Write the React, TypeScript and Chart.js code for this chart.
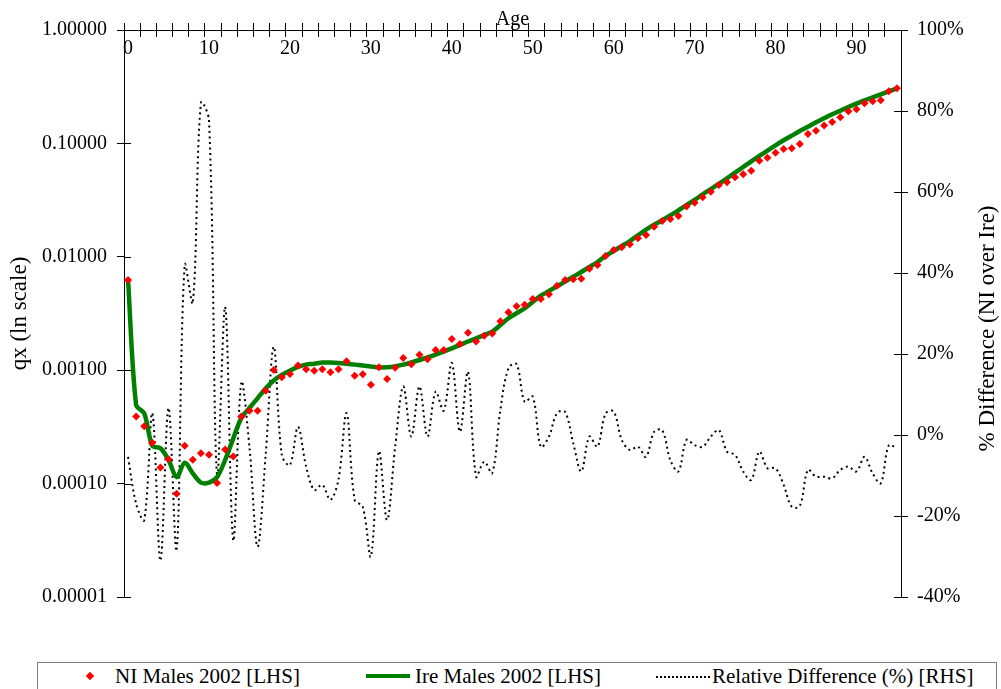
import React, { useEffect, useRef } from "react";
import { Chart, registerables } from "chart.js";

Chart.register(...registerables);

const ages = [
  0, 1, 2, 3, 4, 5, 6, 7, 8, 9, 10, 11, 12, 13, 14, 15, 16, 17, 18, 19,
  20, 21, 22, 23, 24, 25, 26, 27, 28, 29, 30, 31, 32, 33, 34, 35, 36, 37, 38, 39,
  40, 41, 42, 43, 44, 45, 46, 47, 48, 49, 50, 51, 52, 53, 54, 55, 56, 57, 58, 59,
  60, 61, 62, 63, 64, 65, 66, 67, 68, 69, 70, 71, 72, 73, 74, 75, 76, 77, 78, 79,
  80, 81, 82, 83, 84, 85, 86, 87, 88, 89, 90, 91, 92, 93, 94, 95,
];

const niMales2002 = [
  0.00624, 0.00039, 0.00032, 0.000229, 0.000139, 0.000164, 0.0000812, 0.000216, 0.000162, 0.000185,
  0.00018, 0.000101, 0.0002, 0.000173, 0.00039, 0.00044, 0.00044, 0.00066, 0.001005, 0.000865,
  0.000925, 0.0011, 0.00102, 0.00099, 0.00102, 0.00096, 0.00102, 0.0012, 0.000895, 0.00092,
  0.000745, 0.00106, 0.000836, 0.00105, 0.00128, 0.00113, 0.00137, 0.00125, 0.00151, 0.00151,
  0.00188, 0.0017, 0.00214, 0.00179, 0.00201, 0.00211, 0.0027, 0.00324, 0.00366, 0.00378,
  0.00425, 0.00425, 0.00467, 0.00556, 0.00624, 0.00633, 0.00641, 0.00785, 0.00847, 0.01017,
  0.01148, 0.01213, 0.0129, 0.01455, 0.01556, 0.0184, 0.0207, 0.0215, 0.0229, 0.0277,
  0.03, 0.0335, 0.0375, 0.043, 0.0454, 0.0502, 0.0534, 0.0574, 0.0704, 0.0748,
  0.0828, 0.0893, 0.0905, 0.0988, 0.121, 0.1295, 0.144, 0.1545, 0.17, 0.192,
  0.2, 0.226, 0.235, 0.24, 0.288, 0.306,
];

const ireMales2002 = [
  0.00624, 0.000493, 0.000417, 0.000215, 0.000205, 0.000162, 0.000114, 0.000153, 0.000123, 0.000102,
  0.000102, 0.000114, 0.000162, 0.00025, 0.00038, 0.000464, 0.000565, 0.00069, 0.00081, 0.00091,
  0.00099, 0.00107, 0.00112, 0.00114, 0.00117, 0.00117, 0.00116, 0.00114, 0.00112, 0.0011,
  0.00108, 0.00106, 0.00106, 0.00108, 0.00112, 0.00117, 0.00123, 0.0013, 0.00137, 0.00146,
  0.00156, 0.00167, 0.00179, 0.00191, 0.00204, 0.00219, 0.0025, 0.00287, 0.00318, 0.00351,
  0.004, 0.00454, 0.00499, 0.0055, 0.00604, 0.00668, 0.00735, 0.00813, 0.009, 0.0102,
  0.01125, 0.01245, 0.01378, 0.01548, 0.01735, 0.0192, 0.021, 0.0232, 0.0257, 0.0286,
  0.0317, 0.0356, 0.0396, 0.0441, 0.0492, 0.0552, 0.0619, 0.0695, 0.0775, 0.0863,
  0.0962, 0.1065, 0.117, 0.1286, 0.14, 0.1535, 0.1665, 0.1806, 0.194, 0.2094,
  0.224, 0.24, 0.255, 0.271, 0.288, 0.306,
];

const relDiffPct = [
  -5.4, -17, -21, 5.4, -31, 6.7, -28.4, 42, 32.6, 82,
  77.8, -10, 31.6, -26, 13, -3, -27.6, -5, 21.8, -5,
  -7.4, 2, -7.8, -13.6, -12.3, -16, -11, 5.4, -16, -17.7,
  -30, -4, -21, -3, 12, -0.4, 12, -0.4, 10.7, 6,
  17.8, 0.8, 15.6, -10.3, -6.6, -9.4, 6.2, 16.5, 17.5, 8.2,
  9.5, -2.9, -0.4, 5.4, 5.7, -2, -9, -0.4, -2.9, 5.3,
  5.8, -1.2, -3.7, -2.9, -5.4, 0.8, 1.2, -6.2, -9, -1.2,
  -2.5, -2.9, -0.4, 1.2, -4.1, -4.9, -9, -11.1, -4.1, -8.2,
  -8.2, -12.3, -17.7, -17.5, -8.6, -10.3, -10.3, -10.7, -8.6, -7.8,
  -9, -5.4, -9.5, -11.9, -2.5, -3.3,
];

const leftTickValues = [0.00001, 0.0001, 0.001, 0.01, 0.1, 1];
const ageLabelEvery = 10;
const tickMarkEvery = 2;
const rightTitle = "% Difference (NI over Ire)";

const FONT = "'Liberation Serif', 'Times New Roman', serif";
const FS = 20;
const TITLE_FS = 23;

const innerTicks = {
  id: "innerTicks",
  afterDraw(chart: any) {
    const { ctx, chartArea, scales } = chart;
    const len = 7;
    ctx.save();
    ctx.strokeStyle = "#000";
    ctx.lineWidth = 1;
    ctx.beginPath();
    scales.y.ticks.forEach((_t: any, i: number) => {
      const p = Math.round(scales.y.getPixelForTick(i)) + 0.5;
      ctx.moveTo(chartArea.left, p);
      ctx.lineTo(chartArea.left + len, p);
    });
    scales.y2.ticks.forEach((_t: any, i: number) => {
      const p = Math.round(scales.y2.getPixelForTick(i)) + 0.5;
      ctx.moveTo(chartArea.right - len, p);
      ctx.lineTo(chartArea.right, p);
    });
    ctx.stroke();
    // right-hand axis title, reading bottom-to-top
    const y2 = scales.y2;
    ctx.translate(y2.right - 13, (chartArea.top + chartArea.bottom) / 2 + 15);
    ctx.rotate(-Math.PI / 2);
    ctx.font = `${TITLE_FS}px ${FONT}`;
    ctx.fillStyle = "#000";
    ctx.textAlign = "center";
    ctx.textBaseline = "middle";
    ctx.fillText(rightTitle, 0, 0);
    ctx.restore();
  },
};

export default function App() {
  const ref = useRef<HTMLCanvasElement>(null);

  useEffect(() => {
    const tickColor = (c: any) =>
      typeof c.index === "number" && c.index % tickMarkEvery === 0 ? "#000" : "rgba(0,0,0,0)";
    const font = { family: FONT, size: FS };
    const chart = new Chart(ref.current as HTMLCanvasElement, {
      type: "line",
      data: {
        labels: ages.map(String),
        datasets: [
          {
            label: "NI Males 2002 [LHS]",
            data: niMales2002,
            yAxisID: "y",
            xAxisID: "x",
            showLine: false,
            pointStyle: "rectRot",
            pointRadius: 4,
            pointBorderWidth: 0,
            pointBackgroundColor: "#ff0000",
            pointBorderColor: "#ff0000",
            borderColor: "#ff0000",
            backgroundColor: "#ff0000",
          },
          {
            label: "Ire Males 2002 [LHS]",
            data: ireMales2002,
            yAxisID: "y",
            xAxisID: "x",
            borderColor: "#008000",
            backgroundColor: "#008000",
            borderWidth: 4.5,
            pointRadius: 0,
            tension: 0.3,
          },
          {
            label: "Relative Difference (%) [RHS]",
            data: relDiffPct,
            yAxisID: "y2",
            xAxisID: "x",
            borderColor: "#000",
            backgroundColor: "#000",
            borderWidth: 2,
            borderDash: [2, 3.5],
            pointRadius: 0,
            tension: 0.35,
          },
        ],
      },
      options: {
        animation: false,
        responsive: true,
        maintainAspectRatio: false,
        layout: { padding: { top: 0, left: 0, right: 0, bottom: 43 } },
        plugins: { legend: { display: false }, tooltip: { enabled: false } },
        scales: {
          x: {
            type: "category",
            axis: "x",
            position: "top",
            offset: true,
            title: { display: true, text: "Age", color: "#000", font, padding: { top: 8, bottom: 0 } },
            ticks: { display: false, autoSkip: false },
            grid: { drawOnChartArea: false, drawTicks: true, tickLength: 7, offset: true, tickColor },
            border: { display: true, color: "#000", width: 1 },
            afterFit: (s: any) => { s.height = 30; },
          },
          xLab: {
            type: "category",
            axis: "x",
            position: { y: 1 },
            offset: true,
            ticks: {
              display: true,
              autoSkip: false,
              maxRotation: 0,
              color: "#000",
              font,
              padding: 0,
              callback: (_v: any, i: number) => (ages[i] % ageLabelEvery === 0 ? String(ages[i]) : ""),
            },
            grid: { drawOnChartArea: false, drawTicks: true, tickLength: 7, offset: true, tickColor },
            border: { display: false },
          },
          y: {
            type: "logarithmic",
            position: "left",
            min: 0.00001,
            max: 1,
            afterBuildTicks: (s: any) => { s.ticks = leftTickValues.map((v) => ({ value: v })); },
            ticks: {
              color: "#000",
              font,
              padding: 10,
              callback: (v: any) => Number(v).toFixed(5),
            },
            title: {
              display: true,
              text: "qx (ln scale)",
              color: "#000",
              font: { family: FONT, size: TITLE_FS },
              padding: { top: 6, bottom: 0 },
            },
            grid: { drawOnChartArea: false, drawTicks: true, tickLength: 7, tickColor: "#000" },
            border: { display: true, color: "#000", width: 1 },
            afterFit: (s: any) => { s.width = 124; },
          },
          y2: {
            type: "linear",
            position: "right",
            min: -40,
            max: 100,
            ticks: {
              stepSize: 20,
              color: "#000",
              font,
              padding: 9,
              callback: (v: any) => `${v}%`,
            },
            title: { display: false },
            grid: { drawOnChartArea: false, drawTicks: true, tickLength: 7, tickColor: "#000" },
            border: { display: true, color: "#000", width: 1 },
            afterFit: (s: any) => { s.width = 100; },
          },
        },
      },
      plugins: [innerTicks],
    } as any);
    return () => chart.destroy();
  }, []);

  const legendText: React.CSSProperties = {
    position: "absolute",
    top: 666,
    fontFamily: FONT,
    fontSize: 21,
    lineHeight: "21px",
    color: "#000",
    whiteSpace: "nowrap",
  };

  return (
    <div
      style={{
        position: "absolute",
        left: 0,
        top: 0,
        width: 1001,
        height: 689,
        background: "#fff",
        overflow: "hidden",
      }}
    >
      <div style={{ position: "absolute", left: 0, top: 0, width: 1001, height: 640 }}>
        <canvas ref={ref} />
      </div>
      <div
        style={{
          position: "absolute",
          left: 37,
          top: 662,
          width: 960,
          height: 60,
          border: "1px solid #808080",
          boxSizing: "border-box",
        }}
      />
      <div
        style={{
          position: "absolute",
          left: 87,
          top: 673,
          width: 6,
          height: 6,
          background: "#ff0000",
          transform: "rotate(45deg)",
        }}
      />
      <span style={{ ...legendText, left: 115 }}>NI Males 2002 [LHS]</span>
      <div style={{ position: "absolute", left: 366, top: 674, width: 44, height: 4, background: "#008000" }} />
      <span style={{ ...legendText, left: 415 }}>Ire Males 2002 [LHS]</span>
      <div style={{ position: "absolute", left: 656, top: 676, width: 54, height: 0, borderTop: "2px dotted #000" }} />
      <span style={{ ...legendText, left: 712 }}>Relative Difference (%) [RHS]</span>
    </div>
  );
}
